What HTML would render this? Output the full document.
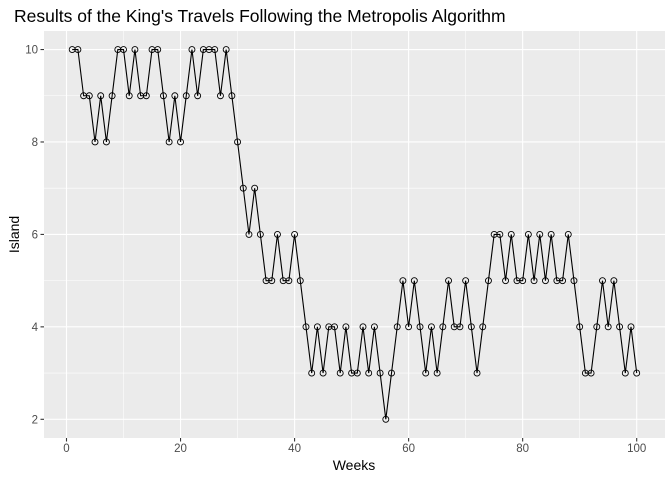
<!DOCTYPE html>
<html><head><meta charset="utf-8"><style>
body{margin:0;background:#fff}
svg{display:block;font-family:"Liberation Sans",sans-serif}
</style></head><body>
<svg id="chart" width="672" height="480">
<text x="14" y="22" font-size="17.5" fill="#000">Results of the King's Travels Following the Metropolis Algorithm</text>
<rect x="44" y="31" width="621" height="407" fill="#ebebeb"/>
<g id="grid"></g>
<g id="axes"></g>
<path id="line" fill="none" stroke="#000" stroke-width="1.1"/>
<g id="pts"></g>
<text x="354" y="470" font-size="14" text-anchor="middle">Weeks</text>
<text transform="translate(19,234.5) rotate(-90)" font-size="14" text-anchor="middle">Island</text>
</svg>
<script>
const weeks=[];for(let i=1;i<=100;i++)weeks.push(i);
const islands=[10,10,9,9,8,9,8,9,10,10,9,10,9,9,10,10,9,8,9,8,9,10,9,10,10,10,9,10,9,8,7,6,7,6,5,5,6,5,5,6,5,4,3,4,3,4,4,3,4,3,3,4,3,4,3,2,3,4,5,4,5,4,3,4,3,4,5,4,4,5,4,3,4,5,6,6,5,6,5,5,6,5,6,5,6,5,5,6,5,4,3,3,4,5,4,5,4,3,4,3];
const xTicks=[0,20,40,60,80,100];
const yTicks=[2,4,6,8,10];
const xMinor=[10,30,50,70,90];
const yMinor=[3,5,7,9];
const NS='http://www.w3.org/2000/svg';
const L=44,R=665,T=31,B=438;
const xs=v=>66.5+v*5.702;
const ys=v=>419.3-(v-2)*46.22;
function mk(tag,attrs,parent){const e=document.createElementNS(NS,tag);for(const k in attrs)e.setAttribute(k,attrs[k]);parent.appendChild(e);return e;}
const g=document.getElementById('grid'),ax=document.getElementById('axes'),pts=document.getElementById('pts');
xMinor.forEach(v=>{const e=mk('line',{x1:xs(v),x2:xs(v),y1:T,y2:B,stroke:'#fff','stroke-width':0.55},g);

});
yMinor.forEach(v=>{const e=mk('line',{x1:L,x2:R,y1:ys(v),y2:ys(v),stroke:'#fff','stroke-width':0.55},g);

});
xTicks.forEach(v=>{const e=mk('line',{x1:xs(v),x2:xs(v),y1:T,y2:B,stroke:'#fff','stroke-width':1.1},g);


const t=mk('line',{x1:xs(v),x2:xs(v),y1:B,y2:B+3.5,stroke:'#333','stroke-width':1.1},ax);


const l=mk('text',{x:xs(v),y:B+14,'font-size':11.5,'text-anchor':'middle',fill:'#4d4d4d'},ax);l.textContent=v;

});
yTicks.forEach(v=>{const e=mk('line',{x1:L,x2:R,y1:ys(v),y2:ys(v),stroke:'#fff','stroke-width':1.1},g);


const t=mk('line',{x1:L-3.5,x2:L,y1:ys(v),y2:ys(v),stroke:'#333','stroke-width':1.1},ax);


const l=mk('text',{x:L-6,y:ys(v)+4,'font-size':11.5,'text-anchor':'end',fill:'#4d4d4d'},ax);l.textContent=v;

});
document.getElementById('line').setAttribute('d',weeks.map((w,i)=>(i?'L':'M')+xs(w).toFixed(2)+','+ys(islands[i]).toFixed(2)).join(''));
weeks.forEach((w,i)=>{const c=mk('circle',{cx:xs(w),cy:ys(islands[i]),r:3,fill:'none',stroke:'#000','stroke-width':0.9},pts);

});
</script>
</body></html>
